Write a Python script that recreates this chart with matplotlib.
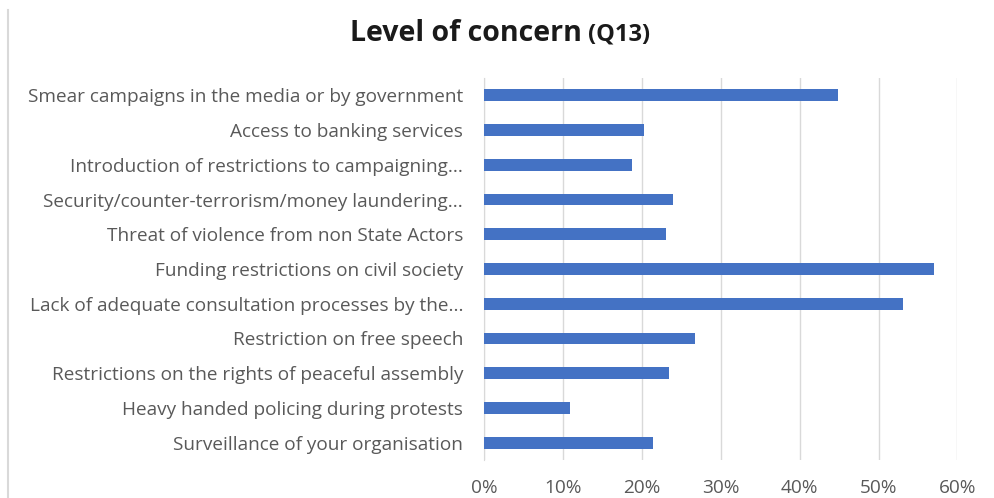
import matplotlib.pyplot as plt
from matplotlib.ticker import PercentFormatter
from matplotlib.lines import Line2D

# --- data (top to bottom) ---
categories = [
    "Smear campaigns in the media or by government",
    "Access to banking services",
    "Introduction of restrictions to campaigning...",
    "Security/counter-terrorism/money laundering...",
    "Threat of violence from non State Actors",
    "Funding restrictions on civil society",
    "Lack of adequate consultation processes by the...",
    "Restriction on free speech",
    "Restrictions on the rights of peaceful assembly",
    "Heavy handed policing during protests",
    "Surveillance of your organisation",
]
values = [44.8, 20.3, 18.7, 24.0, 23.1, 57.0, 53.1, 26.8, 23.5, 10.9, 21.4]
x_ticks = [0, 10, 20, 30, 40, 50, 60]

bar_color = "#4472C4"
grid_color = "#D9D9D9"
text_color = "#595959"
font = ["Open Sans", "DejaVu Sans"]

fig = plt.figure(figsize=(9.95, 4.98), dpi=100)
ax = fig.add_axes([484 / 995, 1 - 460 / 498, (957.5 - 484) / 995, (460 - 78) / 498])

pos = list(range(len(categories)))
ax.barh(pos, values, height=0.34, color=bar_color, zorder=3)
ax.set_ylim(len(categories) - 0.5, -0.5)
ax.set_xlim(0, 60)
ax.set_xticks(x_ticks)
ax.xaxis.set_major_formatter(PercentFormatter(decimals=0))
ax.set_yticks(pos)
ax.set_yticklabels(categories)

ax.grid(axis="x", color=grid_color, linewidth=1, zorder=0)
for s in ["top", "right", "bottom"]:
    ax.spines[s].set_visible(False)
ax.spines["left"].set_color(grid_color)
ax.tick_params(length=0, colors=text_color)
ax.tick_params(axis="y", pad=15)
ax.tick_params(axis="x", pad=14)
for lbl in ax.get_yticklabels() + ax.get_xticklabels():
    lbl.set_fontfamily(font)
    lbl.set_fontsize(13.7)
    lbl.set_color(text_color)

# title: big bold part plus smaller "(Q13)"
fig.text(582 / 995, 1 - 41 / 498, "Level of concern", ha="right", va="baseline",
         fontsize=20.5, fontweight="bold", family=font, color="#1a1a1a")
fig.text(588 / 995, 1 - 41 / 498, "(Q13)", ha="left", va="baseline",
         fontsize=17, fontweight="bold", family=font, color="#1a1a1a")

# chart frame edge on the left
fig.add_artist(Line2D([8 / 995, 8 / 995], [0, 1 - 10 / 498],
                      transform=fig.transFigure, color="#D9D9D9", linewidth=1.5))

fig.savefig("out.png", dpi=100)
